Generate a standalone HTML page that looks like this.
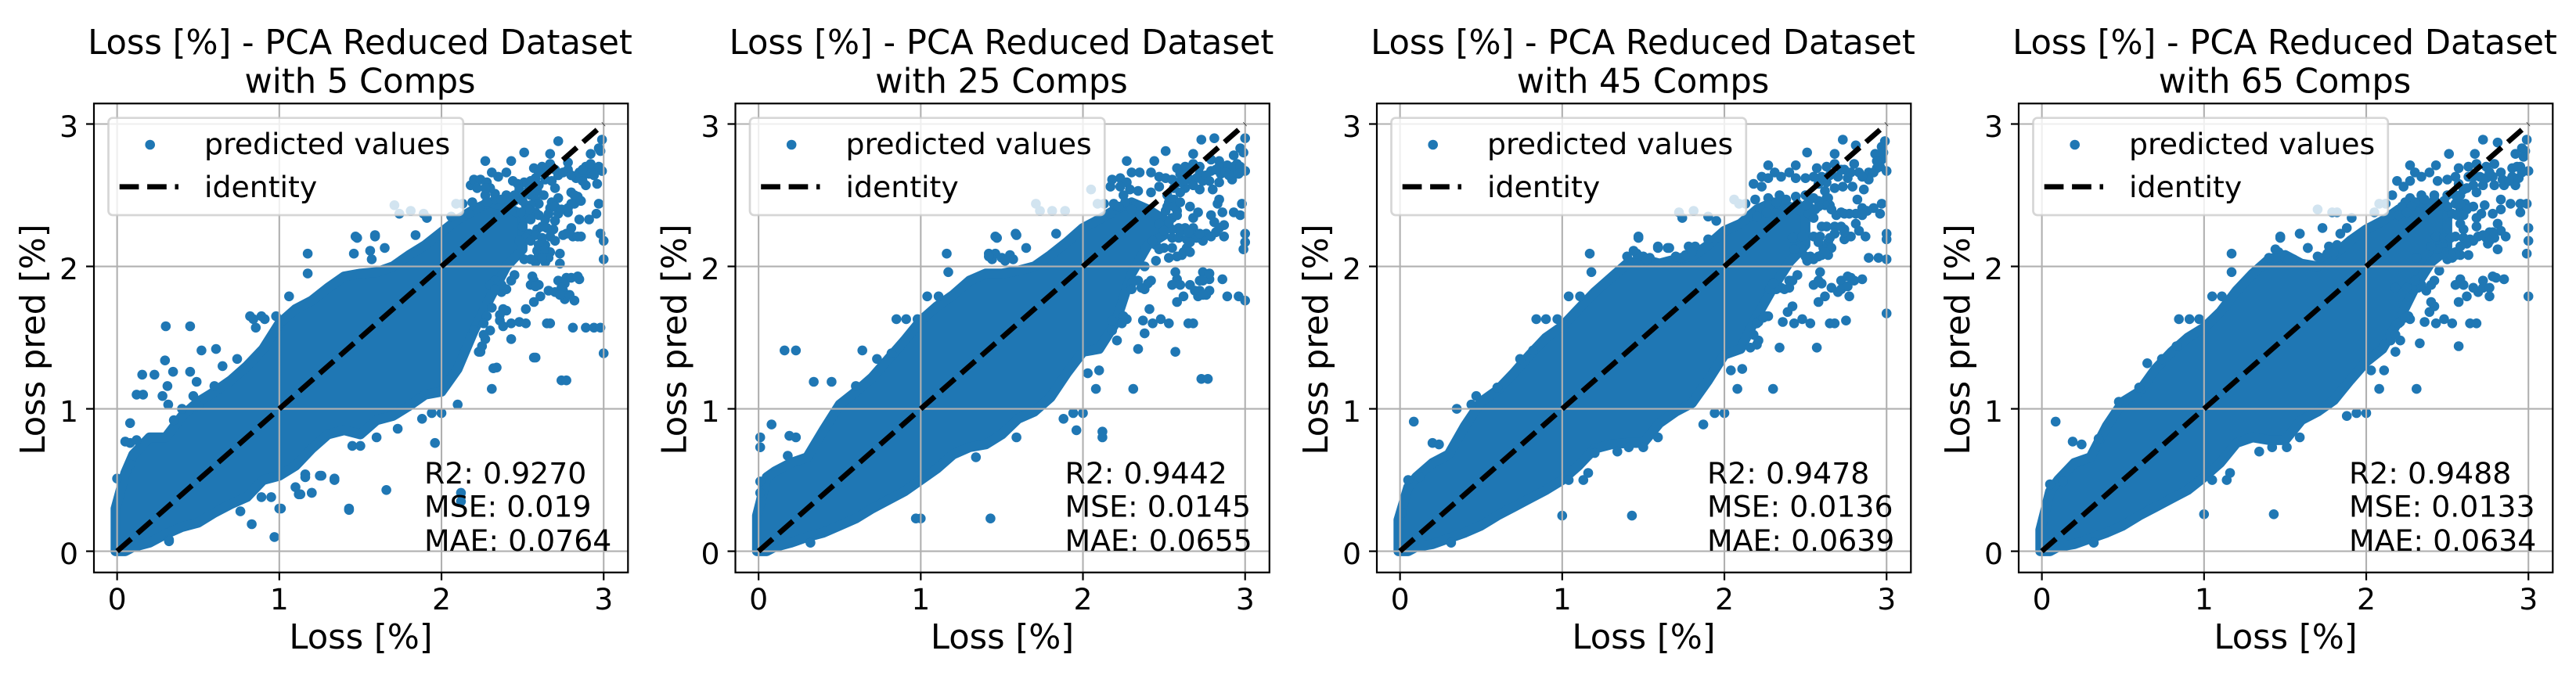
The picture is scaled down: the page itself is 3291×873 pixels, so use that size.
<!DOCTYPE html>
<html lang="en">
<head>
<meta charset="utf-8">
<title>Loss prediction - PCA reduced dataset</title>
<style>
html,body{margin:0;padding:0;background:#fff;}
svg{display:block;}
text{font-family:"DejaVu Sans","Liberation Sans",sans-serif;fill:#000;}
.title,.axis-label{font-size:43.2px;}
.tick,.legend-label,.stat{font-size:37.8px;}
</style>
</head>
<body>
<svg id="figure" xmlns="http://www.w3.org/2000/svg" width="3291" height="873" viewBox="0 0 3291 873">
  <rect width="3291" height="873" fill="#fff"/>

  <g id="panel-0" transform="translate(0,0)">
    <g class="marks"></g>
    <text class="title" text-anchor="middle" x="460" y="69">Loss [%] - PCA Reduced Dataset</text>
    <text class="title" text-anchor="middle" x="460" y="118.3">with 5 Comps</text>
    <text class="axis-label" text-anchor="middle" x="461" y="829">Loss [%]</text>
    <text class="axis-label" text-anchor="middle" transform="translate(57,434) rotate(-90)">Loss pred [%]</text>
    <text class="legend-label" x="261" y="197">predicted values</text>
    <text class="legend-label" x="261" y="252">identity</text>
    <text class="stat" x="542" y="618">R2: 0.9270</text>
    <text class="stat" x="542" y="660.5">MSE: 0.019</text>
    <text class="stat" x="542" y="704">MAE: 0.0764</text>
  </g>

  <g id="panel-1" transform="translate(819.5,0)">
    <g class="marks"></g>
    <text class="title" text-anchor="middle" x="460" y="69">Loss [%] - PCA Reduced Dataset</text>
    <text class="title" text-anchor="middle" x="460" y="118.3">with 25 Comps</text>
    <text class="axis-label" text-anchor="middle" x="461" y="829">Loss [%]</text>
    <text class="axis-label" text-anchor="middle" transform="translate(57,434) rotate(-90)">Loss pred [%]</text>
    <text class="legend-label" x="261" y="197">predicted values</text>
    <text class="legend-label" x="261" y="252">identity</text>
    <text class="stat" x="541" y="618">R2: 0.9442</text>
    <text class="stat" x="541" y="660.5">MSE: 0.0145</text>
    <text class="stat" x="541" y="704">MAE: 0.0655</text>
  </g>

  <g id="panel-2" transform="translate(1639,0)">
    <g class="marks"></g>
    <text class="title" text-anchor="middle" x="460" y="69">Loss [%] - PCA Reduced Dataset</text>
    <text class="title" text-anchor="middle" x="460" y="118.3">with 45 Comps</text>
    <text class="axis-label" text-anchor="middle" x="461" y="829">Loss [%]</text>
    <text class="axis-label" text-anchor="middle" transform="translate(57,434) rotate(-90)">Loss pred [%]</text>
    <text class="legend-label" x="261" y="197">predicted values</text>
    <text class="legend-label" x="261" y="252">identity</text>
    <text class="stat" x="542" y="618">R2: 0.9478</text>
    <text class="stat" x="542" y="660.5">MSE: 0.0136</text>
    <text class="stat" x="542" y="704">MAE: 0.0639</text>
  </g>

  <g id="panel-3" transform="translate(2459,0)">
    <g class="marks"></g>
    <text class="title" text-anchor="middle" x="460" y="69">Loss [%] - PCA Reduced Dataset</text>
    <text class="title" text-anchor="middle" x="460" y="118.3">with 65 Comps</text>
    <text class="axis-label" text-anchor="middle" x="461" y="829">Loss [%]</text>
    <text class="axis-label" text-anchor="middle" transform="translate(57,434) rotate(-90)">Loss pred [%]</text>
    <text class="legend-label" x="261" y="197">predicted values</text>
    <text class="legend-label" x="261" y="252">identity</text>
    <text class="stat" x="542" y="618">R2: 0.9488</text>
    <text class="stat" x="542" y="660.5">MSE: 0.0133</text>
    <text class="stat" x="542" y="704">MAE: 0.0634</text>
  </g>
</svg>

<script>
// ---- tick values shared by every panel ----
const xTicks = [0, 1, 2, 3];
const yTicks = [0, 1, 2, 3];
const identityLine = [0, 3];

// ---- dense core of each scatter: lower / upper extent of the dot cloud, by true loss ----
const coreX = [-0.01,0.05,0.1,0.2,0.3,0.4,0.5,0.6,0.7,0.8,0.9,1,1.1,1.2,1.3,1.4,1.5,1.6,1.7,1.8,1.9,2,2.1,2.2,2.3,2.4,2.5];

const coreHigh5 = [0.3,0.55,0.68,0.8,0.8,0.95,1.05,1.12,1.2,1.3,1.42,1.6,1.7,1.76,1.85,1.93,1.95,1.96,2,2.08,2.15,2.24,2.33,2.4,2.45,2.42,2.36];
const coreLow5 = [0,0,0.03,0.06,0.12,0.17,0.2,0.27,0.33,0.38,0.5,0.53,0.6,0.72,0.82,0.85,0.82,0.92,0.95,1.02,1.1,1.12,1.28,1.55,1.78,2,2.12];

const coreHigh25 = [0.25,0.52,0.56,0.62,0.66,0.85,1.03,1.12,1.22,1.35,1.48,1.62,1.72,1.8,1.9,1.95,1.95,1.97,2,2.08,2.17,2.27,2.33,2.4,2.45,2.4,2.33];
const coreLow25 = [0,0,0.03,0.06,0.1,0.13,0.18,0.23,0.3,0.36,0.42,0.5,0.58,0.68,0.73,0.75,0.82,0.93,0.98,1.08,1.25,1.4,1.42,1.6,1.95,2.15,2.22];

const coreHigh45 = [0.22,0.45,0.52,0.62,0.68,0.88,1.05,1.13,1.25,1.38,1.5,1.58,1.7,1.82,1.92,2.02,2.05,2.02,2.05,2.07,2.15,2.25,2.3,2.4,2.45,2.42,2.38];
const coreLow45 = [0,0,0.03,0.05,0.09,0.13,0.18,0.25,0.31,0.37,0.43,0.5,0.6,0.72,0.75,0.76,0.76,0.9,0.98,1.04,1.2,1.38,1.42,1.65,1.85,2.03,2.15];

const coreHigh65 = [0.15,0.42,0.5,0.62,0.66,0.88,1.05,1.12,1.28,1.4,1.5,1.57,1.68,1.83,1.95,2.05,2.08,2.02,2,2.08,2.18,2.26,2.32,2.4,2.45,2.44,2.42];
const coreLow65 = [0,0,0.03,0.05,0.09,0.13,0.18,0.25,0.31,0.37,0.43,0.52,0.62,0.76,0.8,0.78,0.78,0.92,0.98,1.06,1.2,1.33,1.42,1.62,1.85,2.03,2.12];

// ---- individually visible dots [true, predicted] ----
const points5 = [[2.72,2.88],[2.99,2.89],[2.51,2.8],[2.67,2.79],[2.27,2.74],[2.43,2.74],[2.97,2.83],[2.92,2.79],[2.98,2.81],[2.31,2.66],[2.35,2.63],[2.4,2.66],[2.57,2.69],[2.62,2.7],[2.67,2.72],[2.78,2.73],[2.89,2.7],[2.94,2.69],[2.99,2.67],[2.91,2.65],[2.89,2.57],[2.96,2.58],[2.83,2.62],[2.78,2.68],[2.72,2.64],[2.64,2.61],[2.44,2.6],[2.51,2.59],[2.18,2.57],[2.2,2.61],[2.24,2.61],[2.28,2.59],[2.54,2.55],[2.59,2.53],[2.27,2.5],[2.33,2.51],[2.4,2.5],[2.7,2.55],[2.63,2.5],[2.72,2.48],[2.8,2.52],[2.84,2.49],[2.82,2.44],[2.97,2.44],[2.52,2.43],[2.56,2.37],[2.51,2.35],[2.67,2.41],[2.72,2.37],[2.78,2.38],[2.955,2.37],[2.91,2.33],[2.85,2.33],[2.7,2.32],[2.64,2.33],[2.59,2.26],[2.54,2.23],[2.8,2.27],[2.75,2.22],[2.81,2.21],[2.86,2.21],[2.69,2.26],[2.67,2.21],[2.98,2.23],[3,2.18],[3,2.05],[2.64,2.15],[2.59,2.11],[2.67,2.1],[2.73,2.09],[2.73,2.02],[2.64,2.03],[2.58,2.03],[2.51,2.05],[2.19,2.45],[2.27,2.44],[2.17,2.37],[1.71,2.43],[1.74,2.37],[1.81,2.39],[1.89,2.37],[1.91,2.34],[2.06,2.35],[2.09,2.44],[2.13,2.44],[1.47,2.21],[1.59,2.22],[1.65,2.13],[1.46,2.09],[1.56,2.11],[1.57,2.05],[1.84,2.22],[2.45,1.94],[2.37,1.82],[2.33,1.9],[2.57,1.9],[2.55,1.87],[2.6,1.87],[2.72,1.9],[2.77,1.92],[2.85,1.91],[2.7,1.82],[2.76,1.77],[2.82,1.76],[2.75,1.83],[2.61,1.79],[2.57,1.75],[2.31,1.71],[2.4,1.69],[2.52,1.7],[2.36,1.62],[2.43,1.6],[2.48,1.61],[2.52,1.6],[2.65,1.6],[2.67,1.6],[2.38,1.58],[2.81,1.57],[2.89,1.57],[2.94,1.57],[2.98,1.57],[2.43,1.49],[2.27,1.49],[2.23,1.4],[2.57,1.36],[3,1.39],[2.34,1.29],[2.74,1.2],[2.77,1.2],[2.31,1.14],[2.32,1.285],[2.58,1.36],[2.24,1.4],[2.1,1.03],[2,0.97],[1.94,0.97],[1.88,0.93],[1.73,0.86],[1.96,0.76],[1.6,0.8],[1.66,0.43],[2.12,0.41],[2.12,0.35],[1.43,0.3],[1,0.3],[1.2,0.41],[1.12,0.4],[1.34,0.5],[1.25,0.53],[1.16,0.52],[0.83,0.19],[0.97,0.1],[0.32,0.08],[1.45,0.74],[1.5,0.74],[0.3,1.58],[0.45,1.58],[0.52,1.41],[0.61,1.42],[0.74,1.35],[0.295,1.34],[0.155,1.24],[0.23,1.24],[0.345,1.26],[0.45,1.26],[0.49,1.19],[0.31,1.16],[0.12,1.1],[0.16,1.1],[0.28,1.09],[0.47,1.09],[0.315,1.03],[0.4,1],[0.5,1.02],[0.08,0.9],[0.35,0.92],[0.08,0.76],[0.05,0.77],[0.12,0.78],[0,0.51],[0.08,0.61],[0.65,1.3],[0.6,1.16],[0.82,1.65],[0.89,1.65],[0.98,1.65],[0.855,1.57],[1.16,0.54],[1.26,0.53],[1.34,0.51],[1.1,0.45],[1.13,0.4],[1.2,0.41],[1.01,0.3],[1.43,0.29],[0.32,0.07],[0.76,0.28],[0.95,0.38],[0.89,0.38],[1.175,2.09],[1.175,1.95],[1.48,2.2],[1.59,2.21],[0.84,1.63],[0.91,1.63],[1.06,1.79]];

const clump5 = [[2.6,2.66],[2.65,2.67],[2.7,2.68],[2.75,2.66],[2.8,2.64],[2.85,2.66],[2.87,2.63],[2.68,2.6],[2.58,2.62],[2.55,2.6],[2.6,2.57],[2.47,2.58],[2.48,2.54],[2.5,2.5],[2.45,2.46],[2.5,2.46],[2.55,2.5],[2.58,2.47],[2.6,2.44],[2.55,2.43],[2.58,2.38],[2.54,2.4],[2.49,2.38],[2.55,2.33],[2.6,2.36],[2.3,2.55],[2.33,2.47],[2.28,2.45],[2.37,2.47],[2.42,2.45],[2.45,2.5],[2.22,2.55],[2.27,2.55],[2.68,2.45],[2.7,2.42],[2.74,2.4],[2.66,2.37],[2.82,2.5],[2.78,2.41],[2.8,2.44],[2.86,2.46],[2.62,2.28],[2.65,2.27],[2.58,2.22],[2.62,2.2],[2.5,2.28],[2.52,2.2],[2.48,2.18],[2.55,2.18],[2.6,2.15],[2.63,2.11],[2.6,2.08],[2.66,2.06],[2.62,2.06],[2.55,2.05],[2.7,2.18],[2.77,2.23],[2.84,2.21],[2.92,2.72],[2.87,2.68],[2.97,2.7],[2.94,2.64],[2.87,2.6],[2.76,1.88],[2.8,1.92],[2.74,1.85],[2.66,1.83],[2.73,1.8],[2.79,1.8],[2.84,1.93],[2.56,1.93],[2.58,1.86],[2.4,1.84],[2.43,1.9],[2.3,1.87],[2.37,1.87],[2.33,1.84],[2.38,1.7],[2.36,1.66],[2.28,1.65],[2.26,1.6],[2.3,1.55],[2.26,1.52],[2.2,1.55],[2.25,1.44]];

const points25 = [[2.73,2.89],[2.81,2.9],[3,2.9],[2.51,2.81],[2.68,2.79],[2.27,2.74],[2.44,2.74],[2.97,2.83],[2.93,2.78],[2.99,2.8],[3,2.67],[2.3,2.66],[2.35,2.66],[2.42,2.66],[2.47,2.63],[2.51,2.62],[2.18,2.61],[2.17,2.56],[2.23,2.62],[2.27,2.59],[2.23,2.56],[2.29,2.54],[2.34,2.53],[2.42,2.52],[2.47,2.56],[2.58,2.69],[2.63,2.7],[2.68,2.72],[2.79,2.75],[2.84,2.74],[2.89,2.71],[2.95,2.72],[2.92,2.66],[2.92,2.61],[2.85,2.65],[2.79,2.67],[2.72,2.65],[2.66,2.61],[2.59,2.59],[2.55,2.61],[2.72,2.54],[2.8,2.54],[2.84,2.59],[2.63,2.55],[2.84,2.47],[2.83,2.44],[2.98,2.44],[2.53,2.45],[2.51,2.39],[2.58,2.39],[2.55,2.34],[2.66,2.42],[2.71,2.38],[2.68,2.34],[2.79,2.36],[2.86,2.38],[2.93,2.38],[2.97,2.36],[2.81,2.31],[2.87,2.29],[2.59,2.27],[2.55,2.26],[2.68,2.27],[2.68,2.22],[2.55,2.2],[2.59,2.2],[2.64,2.19],[2.76,2.23],[2.74,2.18],[2.82,2.24],[2.87,2.21],[2.64,2.13],[2.61,2.08],[2.53,2.06],[2.5,2.13],[2.45,2.15],[2.45,2.04],[3,2.23],[3,2.17],[2.99,2.12],[2.19,2.44],[2.27,2.44],[2.17,2.37],[2.05,2.54],[1.71,2.44],[1.735,2.39],[1.81,2.39],[1.89,2.39],[2.09,2.44],[2.13,2.44],[1.46,2.21],[1.585,2.23],[1.65,2.13],[1.835,2.23],[1.42,2.09],[1.46,2.09],[1.55,2.08],[1.57,2.05],[2.38,2],[2.42,1.9],[2.38,1.84],[2.34,1.9],[2.58,1.91],[2.55,1.87],[2.6,1.87],[2.74,1.96],[2.78,1.91],[2.72,1.9],[2.86,1.91],[2.69,1.83],[2.78,1.83],[2.71,1.79],[2.76,1.8],[2.62,1.79],[2.58,1.75],[2.89,1.79],[2.96,1.79],[3,1.76],[2.41,1.7],[2.27,1.63],[2.21,1.61],[2.37,1.62],[2.43,1.6],[2.48,1.63],[2.53,1.6],[2.65,1.6],[2.68,1.6],[2.38,1.53],[2.21,1.48],[2.18,1.55],[2.34,1.42],[2.57,1.4],[2.73,1.21],[2.77,1.21],[2.31,1.14],[2.1,1.27],[2.03,1.25],[2.08,1.14],[1.94,0.97],[2,0.97],[1.88,0.93],[1.96,0.85],[2.12,0.84],[2.12,0.8],[1.59,0.8],[1.43,0.23],[0.97,0.23],[1,0.23],[0.32,0.06],[1.34,0.66],[0.16,1.41],[0.23,1.41],[0.64,1.41],[0.34,1.19],[0.45,1.19],[0.08,0.89],[0.01,0.8],[0.01,0.73],[0.6,1.16],[0.73,1.35],[0.82,1.39],[0.85,1.63],[0.91,1.63],[0.98,1.63],[1.16,2.09],[1.17,1.96],[1.47,2.2],[1.59,2.22],[1.04,1.79],[1.11,1.79],[0.01,0.49],[0.01,0.41],[0.19,0.81],[0.23,0.8],[0.18,0.67]];

const clump25 = [[2.56,2.55],[2.6,2.52],[2.56,2.47],[2.52,2.42],[2.56,2.42],[2.6,2.45],[2.52,2.5],[2.58,2.36],[2.53,2.31],[2.66,2.68],[2.7,2.62],[2.74,2.6],[2.76,2.64],[2.68,2.57],[2.64,2.64],[2.6,2.65],[2.72,2.7],[2.62,2.6],[2.78,2.6],[2.84,2.7],[2.88,2.66],[2.93,2.7],[2.97,2.7],[2.96,2.65],[2.9,2.64],[2.82,2.68],[2.26,2.45],[2.22,2.42],[2.3,2.4],[2.25,2.5],[2.63,2.27],[2.6,2.24],[2.65,2.24],[2.7,2.2],[2.66,2.17],[2.62,2.1],[2.66,2.1],[2.58,2.07],[2.55,2.13],[2.47,2.12],[2.43,2.18],[2.72,2.23],[2.79,2.21],[2.84,2.27],[2.47,2.3],[2.5,2.25],[2.66,1.87],[2.72,1.83],[2.74,1.9],[2.78,1.95],[2.74,1.8],[2.57,1.96],[2.4,1.88],[2.36,1.85],[2.3,1.88],[2.3,1.84],[2.25,1.65],[2.24,1.6],[2.18,1.62],[1.44,2.05],[1.42,2.07],[1.5,2.06],[1.52,2.04]];

const points45 = [[2.73,2.89],[2.81,2.85],[2.99,2.88],[2.51,2.8],[2.68,2.79],[2.27,2.71],[2.44,2.71],[2.97,2.84],[2.93,2.79],[2.98,2.8],[3,2.67],[2.97,2.75],[2.31,2.66],[2.35,2.63],[2.4,2.66],[2.44,2.62],[2.5,2.62],[2.55,2.63],[2.57,2.69],[2.63,2.7],[2.68,2.72],[2.8,2.72],[2.74,2.68],[2.83,2.66],[2.89,2.66],[2.94,2.69],[2.89,2.61],[2.18,2.58],[2.23,2.63],[2.27,2.62],[2.23,2.56],[2.63,2.59],[2.68,2.55],[2.73,2.56],[2.79,2.56],[2.86,2.54],[2.82,2.47],[2.63,2.48],[2.65,2.43],[2.69,2.36],[2.74,2.37],[2.81,2.37],[2.85,2.41],[2.92,2.41],[2.97,2.44],[2.96,2.37],[2.19,2.47],[2.27,2.48],[2.34,2.5],[2.44,2.49],[2.55,2.48],[2.53,2.41],[2.56,2.4],[2.52,2.37],[2.55,2.34],[2.6,2.28],[2.68,2.28],[2.74,2.26],[2.81,2.3],[2.83,2.25],[2.87,2.21],[2.78,2.21],[2.74,2.19],[2.68,2.23],[2.64,2.17],[2.55,2.21],[2.59,2.21],[2.45,2.21],[2.53,2.07],[2.6,2.08],[2.64,2.08],[2.61,2.13],[2.48,2.12],[3,2.23],[3,2.19],[2.89,2.06],[2.95,2.06],[3,2.05],[2.06,2.47],[2.09,2.44],[2.13,2.44],[1.72,2.38],[1.81,2.39],[1.74,2.34],[1.9,2.35],[1.95,2.32],[1.47,2.21],[1.59,2.14],[1.65,2.13],[1.78,2.14],[1.82,2.14],[1.9,2.19],[1.46,2.09],[1.54,2.06],[1.73,2.06],[2.45,1.94],[2.4,1.9],[2.37,1.84],[2.59,1.96],[2.55,1.87],[2.6,1.88],[2.72,1.9],[2.78,1.92],[2.85,1.91],[2.7,1.82],[2.77,1.79],[2.62,1.79],[2.58,1.75],[2.42,1.72],[2.39,1.68],[2.27,1.65],[2.21,1.61],[2.36,1.61],[2.43,1.6],[2.48,1.63],[2.53,1.6],[2.65,1.6],[2.68,1.6],[2.75,1.62],[3,1.67],[2.21,1.48],[2.16,1.43],[2.34,1.43],[2.57,1.43],[2.3,1.14],[2.08,1.14],[2.11,1.28],[2.04,1.27],[1.94,0.97],[2,0.97],[1.87,0.89],[1.59,0.8],[1.5,0.73],[1.41,0.73],[1.34,0.7],[1.2,0.69],[1.43,0.25],[1,0.25],[0.315,0.06],[1.13,0.5],[1.16,0.55],[1.04,0.5],[0.085,0.91],[0.2,0.76],[0.24,0.75],[0.35,1],[0.47,1.09],[0.44,1.03],[0.6,1.15],[0.74,1.35],[0.82,1.41],[0.84,1.63],[0.9,1.63],[0.97,1.63],[1.17,2.09],[1.18,1.96],[1.47,2.2],[1.59,2.13],[1.66,2.13],[1.04,1.79],[1.11,1.79],[0.01,0.27],[0.05,0.5],[0.12,0.52]];

const clump45 = [[2.6,2.63],[2.65,2.64],[2.7,2.63],[2.76,2.62],[2.72,2.68],[2.78,2.66],[2.85,2.63],[2.92,2.66],[2.96,2.7],[2.94,2.74],[2.58,2.58],[2.62,2.53],[2.64,2.48],[2.62,2.43],[2.66,2.4],[2.58,2.46],[2.52,2.46],[2.5,2.43],[2.5,2.5],[2.58,2.42],[2.77,2.37],[2.72,2.38],[2.88,2.39],[2.85,2.36],[2.28,2.43],[2.32,2.45],[2.38,2.47],[2.45,2.44],[2.22,2.4],[2.2,2.35],[2.26,2.38],[2.63,2.28],[2.72,2.28],[2.76,2.21],[2.74,2.24],[2.65,2.2],[2.66,2.13],[2.62,2.1],[2.58,2.07],[2.55,2.05],[2.51,2.04],[2.5,2.07],[2.47,2.13],[2.43,2.12],[2.42,2.2],[2.48,2.21],[2.58,2.17],[2.66,1.85],[2.72,1.84],[2.76,1.86],[2.8,1.9],[2.76,1.93],[2.58,1.9],[2.35,1.85],[2.32,1.84],[2.28,1.84],[2.4,1.85],[2.42,1.9],[2.3,1.88],[2.26,1.65],[2.2,1.6],[2.24,1.64],[2.18,1.52],[2.2,1.45],[1.4,2.07],[1.44,2.11],[1.5,2.07],[1.52,2.05],[1.7,2.07],[1.76,2.08],[1.8,2.1]];

const points65 = [[2.72,2.89],[2.81,2.87],[2.99,2.89],[2.51,2.79],[2.67,2.79],[2.27,2.71],[2.43,2.71],[2.96,2.83],[2.92,2.79],[2.98,2.81],[3,2.67],[2.97,2.77],[2.3,2.66],[2.34,2.63],[2.39,2.66],[2.44,2.6],[2.5,2.61],[2.55,2.63],[2.57,2.69],[2.63,2.7],[2.68,2.72],[2.79,2.72],[2.74,2.7],[2.83,2.66],[2.9,2.69],[2.95,2.7],[2.9,2.63],[2.92,2.57],[2.19,2.6],[2.23,2.56],[2.27,2.6],[2.16,2.5],[2.85,2.57],[2.79,2.57],[2.72,2.57],[2.66,2.57],[2.6,2.54],[2.27,2.48],[2.34,2.5],[2.42,2.5],[2.24,2.45],[2.83,2.47],[2.89,2.44],[2.95,2.44],[2.99,2.44],[2.95,2.38],[2.83,2.4],[2.78,2.37],[2.73,2.43],[2.71,2.37],[2.68,2.34],[2.66,2.42],[2.61,2.44],[2.55,2.44],[2.53,2.37],[2.58,2.3],[2.6,2.26],[2.68,2.28],[2.81,2.3],[2.83,2.25],[2.86,2.21],[2.76,2.24],[2.79,2.2],[2.75,2.16],[2.81,2.12],[3,2.27],[3,2.18],[2.99,2.09],[2.69,2.21],[2.64,2.19],[2.55,2.21],[2.43,2.21],[2.53,2.06],[2.58,2.08],[2.63,2.08],[2.55,2.1],[2.47,2.15],[2.31,2.06],[1.7,2.4],[1.79,2.38],[1.82,2.38],[2.05,2.38],[2.08,2.44],[2.12,2.44],[1.91,2.34],[1.73,2.27],[1.84,2.23],[1.88,2.27],[1.47,2.21],[1.59,2.23],[1.64,2.13],[1.77,2.14],[1.82,2.15],[1.46,2.1],[1.55,2.05],[1.72,2.06],[2.45,1.97],[2.42,1.9],[2.37,1.83],[2.58,1.91],[2.55,1.87],[2.6,1.87],[2.72,1.9],[2.78,1.93],[2.85,1.91],[2.69,1.82],[2.76,1.79],[2.62,1.79],[2.57,1.75],[3,1.79],[2.42,1.72],[2.39,1.68],[2.27,1.63],[2.21,1.61],[2.36,1.61],[2.43,1.6],[2.48,1.63],[2.53,1.6],[2.64,1.6],[2.68,1.6],[2.21,1.48],[2.15,1.48],[2.33,1.46],[2.57,1.44],[2.31,1.14],[2.08,1.14],[2.11,1.27],[2.03,1.27],[2,0.97],[1.94,0.97],[1.88,0.95],[1.59,0.8],[1.51,0.73],[1.42,0.73],[1.34,0.7],[1.43,0.26],[1,0.26],[0.32,0.06],[1.14,0.5],[1.16,0.55],[1.05,0.5],[0.085,0.91],[0.19,0.77],[0.245,0.75],[0.35,0.79],[0.475,1.05],[0.6,1.15],[0.65,1.32],[0.74,1.35],[0.83,1.44],[0.845,1.63],[0.91,1.63],[0.97,1.63],[1.17,2.09],[1.17,1.96],[1.47,2.2],[1.59,2.23],[1.64,2.13],[1.05,1.79],[1.11,1.79],[0.05,0.47],[0.13,0.49]];

const clump65 = [[2.7,2.63],[2.74,2.62],[2.78,2.63],[2.84,2.61],[2.88,2.6],[2.94,2.62],[2.96,2.66],[2.93,2.7],[2.63,2.63],[2.66,2.63],[2.62,2.55],[2.68,2.52],[2.72,2.62],[2.76,2.66],[2.57,2.58],[2.58,2.5],[2.55,2.5],[2.5,2.5],[2.48,2.46],[2.5,2.42],[2.58,2.4],[2.62,2.4],[2.56,2.36],[2.6,2.36],[2.58,2.44],[2.3,2.45],[2.36,2.47],[2.42,2.47],[2.28,2.42],[2.22,2.42],[2.2,2.36],[2.25,2.38],[2.45,2.44],[2.78,2.24],[2.74,2.2],[2.72,2.22],[2.76,2.18],[2.66,2.18],[2.6,2.2],[2.62,2.16],[2.58,2.14],[2.55,2.08],[2.5,2.05],[2.52,2.08],[2.48,2.1],[2.44,2.12],[2.4,2.14],[2.48,2.2],[2.52,2.2],[2.66,1.85],[2.72,1.85],[2.76,1.85],[2.8,1.92],[2.32,1.85],[2.28,1.84],[2.34,1.87],[2.4,1.87],[2.25,1.85],[2.18,1.85],[2.3,1.9],[2.26,1.65],[2.2,1.6],[2.24,1.64],[2.4,1.75],[2.18,1.52],[2.18,1.4],[1.4,2.06],[1.44,2.12],[1.5,2.06],[1.52,2.05],[1.7,2.07],[1.76,2.09],[1.8,2.1]];

const coreHighSeries = [coreHigh5, coreHigh25, coreHigh45, coreHigh65];
const coreLowSeries = [coreLow5, coreLow25, coreLow45, coreLow65];
const pointSeries = [points5, points25, points45, points65];
const clumpSeries = [clump5, clump25, clump45, clump65];

// ---- axes box, in page pixels relative to each panel group ----
const boxLeft = 120, boxRight = 802.3, boxTop = 132.3, boxBottom = 731.7;
const xMin = -0.143, xMax = 3.15, yMin = -0.149, yMax = 3.144;
const BLUE = '#1f77b4', DOT_R = 6.3;
const NS = 'http://www.w3.org/2000/svg';

function xScale(v) { return boxLeft + (v - xMin) / (xMax - xMin) * (boxRight - boxLeft); }
function yScale(v) { return boxBottom - (v - yMin) / (yMax - yMin) * (boxBottom - boxTop); }

function make(parent, tag, attrs) {
  const el = document.createElementNS(NS, tag);
  for (const k in attrs) el.setAttribute(k, attrs[k]);
  parent.appendChild(el);
  return el;
}

function drawPanel(index) {
  const g = document.querySelector('#panel-' + index + ' .marks');
  const high = coreHighSeries[index];
  const low = coreLowSeries[index];
  const pts = pointSeries[index].concat(clumpSeries[index]);

  // dense cloud of overlapping dots
  const upper = coreX.map((x, i) => xScale(x).toFixed(1) + ',' + yScale(high[i]).toFixed(1));
  const lower = coreX.map((x, i) => xScale(x).toFixed(1) + ',' + yScale(low[i]).toFixed(1)).reverse();
  const core = make(g, 'polygon', {
    points: upper.concat(lower).join(' '),
    fill: BLUE, stroke: BLUE, 'stroke-width': DOT_R * 2, 'stroke-linejoin': 'round'
  });
  
  

  // individually visible dots
  pts.forEach(function (p) {
    const dot = make(g, 'circle', { cx: xScale(p[0]).toFixed(1), cy: yScale(p[1]).toFixed(1), r: DOT_R, fill: BLUE });
    
    
  });

  // grid lines sit above the dots
  xTicks.forEach(function (t) {
    const line = make(g, 'line', { x1: xScale(t), x2: xScale(t), y1: boxTop, y2: boxBottom, stroke: '#b0b0b0', 'stroke-width': 2.1 });
    
    
  });
  yTicks.forEach(function (t) {
    const line = make(g, 'line', { x1: boxLeft, x2: boxRight, y1: yScale(t), y2: yScale(t), stroke: '#b0b0b0', 'stroke-width': 2.1 });
    
    
  });

  // identity reference line
  const idLine = make(g, 'line', {
    x1: xScale(identityLine[0]), y1: yScale(identityLine[0]),
    x2: xScale(identityLine[1]), y2: yScale(identityLine[1]),
    stroke: '#000', 'stroke-width': 6.75, 'stroke-dasharray': '23.9 10.55'
  });
  
  

  // spines
  const frame = make(g, 'rect', {
    x: boxLeft, y: boxTop, width: boxRight - boxLeft, height: boxBottom - boxTop,
    fill: 'none', stroke: '#000', 'stroke-width': 2.2
  });
  
  

  // ticks and tick labels
  xTicks.forEach(function (t) {
    const mark = make(g, 'line', { x1: xScale(t), x2: xScale(t), y1: boxBottom, y2: boxBottom + 10, stroke: '#000', 'stroke-width': 2.2 });
    
    
    const label = make(g, 'text', { class: 'tick', x: xScale(t), y: 779, 'text-anchor': 'middle' });
    label.textContent = String(t);
    
    
  });
  yTicks.forEach(function (t) {
    const mark = make(g, 'line', { x1: boxLeft - 10, x2: boxLeft, y1: yScale(t), y2: yScale(t), stroke: '#000', 'stroke-width': 2.2 });
    
    
    const label = make(g, 'text', { class: 'tick', x: 100, y: yScale(t) + 16.4, 'text-anchor': 'end' });
    label.textContent = String(t);
    
    
  });

  // legend box, translucent over the marks
  const box = make(g, 'rect', {
    x: 138.5, y: 150.7, width: 453.3, height: 124.3, rx: 5.5, ry: 5.5,
    fill: 'rgba(255,255,255,0.8)', stroke: 'rgba(204,204,204,0.8)', 'stroke-width': 2.7
  });
  
  
  const swatchDot = make(g, 'circle', { cx: 191.7, cy: 185, r: DOT_R, fill: BLUE });
  
  
  const swatchLine = make(g, 'line', {
    x1: 152.7, x2: 228, y1: 238.7, y2: 238.7,
    stroke: '#000', 'stroke-width': 6.75, 'stroke-dasharray': '24.7 10.7'
  });
  
  
}

for (let i = 0; i < pointSeries.length; i++) drawPanel(i);
</script>
</body>
</html>
